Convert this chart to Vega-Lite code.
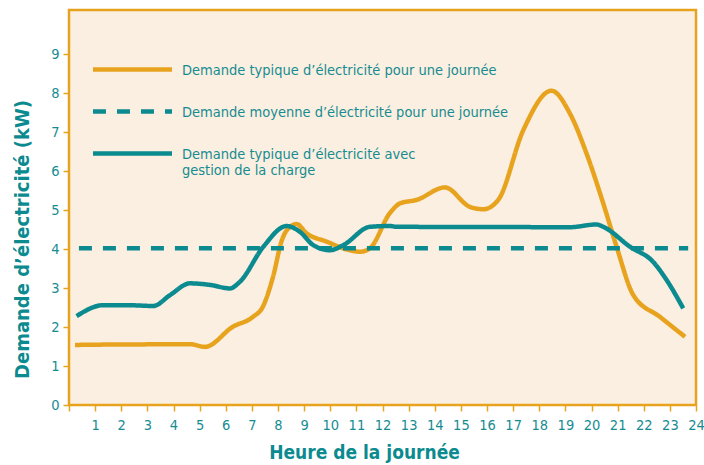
{
  "$schema": "https://vega.github.io/schema/vega-lite/v6.json",
  "width": 627,
  "height": 395,
  "autosize": "none",
  "padding": {"left": 69, "top": 10, "right": 8, "bottom": 60},
  "background": "white",
  "config": {
    "view": {"fill": "#FBEFE1", "stroke": "#E8A31E", "strokeWidth": 2.5},
    "font": "DejaVu Sans Condensed, sans-serif",
    "axis": {
      "labelFont": "DejaVu Sans Condensed, sans-serif",
      "titleFont": "DejaVu Sans Condensed, sans-serif",
      "labelColor": "#168C91",
      "titleColor": "#0B8A8F",
      "tickColor": "#E8A31E",
      "tickWidth": 1.5,
      "grid": false,
      "domain": false
    }
  },
  "data": {
    "values": [
      {"h": 0.23, "v": 1.54, "s": "Demande typique d’électricité pour une journée"},
      {"h": 1.5, "v": 1.55, "s": "Demande typique d’électricité pour une journée"},
      {"h": 3.0, "v": 1.555, "s": "Demande typique d’électricité pour une journée"},
      {"h": 4.63, "v": 1.56, "s": "Demande typique d’électricité pour une journée"},
      {"h": 5.2, "v": 1.49, "s": "Demande typique d’électricité pour une journée"},
      {"h": 6.28, "v": 2.01, "s": "Demande typique d’électricité pour une journée"},
      {"h": 7.04, "v": 2.26, "s": "Demande typique d’électricité pour une journée"},
      {"h": 7.42, "v": 2.52, "s": "Demande typique d’électricité pour une journée"},
      {"h": 7.81, "v": 3.29, "s": "Demande typique d’électricité pour une journée"},
      {"h": 8.15, "v": 4.23, "s": "Demande typique d’électricité pour une journée"},
      {"h": 8.46, "v": 4.57, "s": "Demande typique d’électricité pour une journée"},
      {"h": 8.71, "v": 4.64, "s": "Demande typique d’électricité pour une journée"},
      {"h": 9.1, "v": 4.4, "s": "Demande typique d’électricité pour une journée"},
      {"h": 9.86, "v": 4.19, "s": "Demande typique d’électricité pour une journée"},
      {"h": 10.63, "v": 3.99, "s": "Demande typique d’électricité pour une journée"},
      {"h": 11.14, "v": 3.93, "s": "Demande typique d’électricité pour une journée"},
      {"h": 11.52, "v": 4.02, "s": "Demande typique d’électricité pour une journée"},
      {"h": 12.28, "v": 4.92, "s": "Demande typique d’électricité pour une journée"},
      {"h": 12.67, "v": 5.17, "s": "Demande typique d’électricité pour une journée"},
      {"h": 13.31, "v": 5.26, "s": "Demande typique d’électricité pour une journée"},
      {"h": 14.39, "v": 5.58, "s": "Demande typique d’électricité pour une journée"},
      {"h": 15.35, "v": 5.08, "s": "Demande typique d’électricité pour une journée"},
      {"h": 15.86, "v": 5.02, "s": "Demande typique d’électricité pour une journée"},
      {"h": 16.43, "v": 5.26, "s": "Demande typique d’électricité pour une journée"},
      {"h": 17.39, "v": 7.05, "s": "Demande typique d’électricité pour une journée"},
      {"h": 18.47, "v": 8.06, "s": "Demande typique d’électricité pour une journée"},
      {"h": 19.17, "v": 7.48, "s": "Demande typique d’électricité pour une journée"},
      {"h": 19.81, "v": 6.45, "s": "Demande typique d’électricité pour une journée"},
      {"h": 20.45, "v": 5.17, "s": "Demande typique d’électricité pour une journée"},
      {"h": 20.96, "v": 4.06, "s": "Demande typique d’électricité pour une journée"},
      {"h": 21.6, "v": 2.82, "s": "Demande typique d’électricité pour une journée"},
      {"h": 22.62, "v": 2.26, "s": "Demande typique d’électricité pour une journée"},
      {"h": 23.58, "v": 1.75, "s": "Demande typique d’électricité pour une journée"},
      {"h": 0.38, "v": 4.02, "s": "Demande moyenne d’électricité pour une journée"},
      {"h": 23.7, "v": 4.02, "s": "Demande moyenne d’électricité pour une journée"},
      {"h": 0.29, "v": 2.28, "s": "Demande typique d’électricité avec gestion de la charge"},
      {"h": 1.31, "v": 2.56, "s": "Demande typique d’électricité avec gestion de la charge"},
      {"h": 2.21, "v": 2.56, "s": "Demande typique d’électricité avec gestion de la charge"},
      {"h": 3.23, "v": 2.54, "s": "Demande typique d’électricité avec gestion de la charge"},
      {"h": 3.87, "v": 2.82, "s": "Demande typique d’électricité avec gestion de la charge"},
      {"h": 4.63, "v": 3.12, "s": "Demande typique d’électricité avec gestion de la charge"},
      {"h": 5.4, "v": 3.08, "s": "Demande typique d’électricité avec gestion de la charge"},
      {"h": 6.16, "v": 2.99, "s": "Demande typique d’électricité avec gestion de la charge"},
      {"h": 6.54, "v": 3.16, "s": "Demande typique d’électricité avec gestion de la charge"},
      {"h": 7.44, "v": 4.06, "s": "Demande typique d’électricité avec gestion de la charge"},
      {"h": 8.33, "v": 4.59, "s": "Demande typique d’électricité avec gestion de la charge"},
      {"h": 8.84, "v": 4.44, "s": "Demande typique d’électricité avec gestion de la charge"},
      {"h": 9.35, "v": 4.1, "s": "Demande typique d’électricité avec gestion de la charge"},
      {"h": 9.99, "v": 3.97, "s": "Demande typique d’électricité avec gestion de la charge"},
      {"h": 10.5, "v": 4.1, "s": "Demande typique d’électricité avec gestion de la charge"},
      {"h": 11.52, "v": 4.57, "s": "Demande typique d’électricité avec gestion de la charge"},
      {"h": 12.28, "v": 4.59, "s": "Demande typique d’électricité avec gestion de la charge"},
      {"h": 12.54, "v": 4.57, "s": "Demande typique d’électricité avec gestion de la charge"},
      {"h": 16.0, "v": 4.565, "s": "Demande typique d’électricité avec gestion de la charge"},
      {"h": 19.17, "v": 4.56, "s": "Demande typique d’électricité avec gestion de la charge"},
      {"h": 20.19, "v": 4.63, "s": "Demande typique d’électricité avec gestion de la charge"},
      {"h": 20.45, "v": 4.57, "s": "Demande typique d’électricité avec gestion de la charge"},
      {"h": 21.47, "v": 4.06, "s": "Demande typique d’électricité avec gestion de la charge"},
      {"h": 22.36, "v": 3.67, "s": "Demande typique d’électricité avec gestion de la charge"},
      {"h": 22.87, "v": 3.21, "s": "Demande typique d’électricité avec gestion de la charge"},
      {"h": 23.51, "v": 2.48, "s": "Demande typique d’électricité avec gestion de la charge"}
    ]
  },
  "mark": {"type": "line", "interpolate": "monotone", "strokeWidth": 4.5, "strokeCap": "butt"},
  "encoding": {
    "x": {
      "field": "h", "type": "quantitative",
      "scale": {"domain": [0, 24], "nice": false, "zero": false},
      "axis": {
        "values": [0,1,2,3,4,5,6,7,8,9,10,11,12,13,14,15,16,17,18,19,20,21,22,23,24],
        "labelExpr": "datum.value == 0 ? '' : datum.label",
        "tickSize": 6, "labelPadding": 7, "labelFontSize": 14.5,
        "labelFlush": false, "labelOverlap": false,
        "title": "Heure de la journée",
        "titleFontSize": 19, "titleFontWeight": "bold",
        "titleX": 295, "titleY": 47, "titleBaseline": "middle", "titleAnchor": null, "titleAlign": "center"
      }
    },
    "y": {
      "field": "v", "type": "quantitative",
      "scale": {"domain": [0, 10.13], "nice": false},
      "axis": {
        "values": [0,1,2,3,4,5,6,7,8,9],
        "tickSize": 6, "labelPadding": 4, "labelFontSize": 14.5,
        "title": "Demande d’électricité (kW)",
        "titleFontSize": 20, "titleFontWeight": "bold",
        "titleAngle": -90, "titleX": -47, "titleY": 229,
        "titleAlign": "center", "titleBaseline": "middle"
      }
    },
    "color": {
      "field": "s", "type": "nominal",
      "scale": {
        "domain": ["Demande typique d’électricité pour une journée", "Demande moyenne d’électricité pour une journée", "Demande typique d’électricité avec gestion de la charge"],
        "range": ["#E8A31E", "#0B8A8F", "#0B8A8F"]
      },
      "legend": {
        "orient": "none", "legendX": 45, "legendY": 41, "title": null,
        "padding": 0,
        "symbolType": "M-2.5,0H2.5", "symbolSize": 1000, "symbolStrokeWidth": 4.5,
        "labelFont": "DejaVu Sans Condensed, sans-serif",
        "labelFontSize": 14.5, "labelColor": "#168C91", "labelOffset": 31,
        "labelLimit": 0, "rowPadding": 14,
        "labelBaseline": "alphabetic",
        "labelExpr": "indexof(datum.label, 'avec') > 0 ? ['Demande typique d’électricité avec', 'gestion de la charge'] : datum.label",
        "encode": {"labels": {"update": {"dy": {"value": 5}}}}
      }
    },
    "strokeDash": {
      "field": "s", "type": "nominal",
      "scale": {
        "domain": ["Demande typique d’électricité pour une journée", "Demande moyenne d’électricité pour une journée", "Demande typique d’électricité avec gestion de la charge"],
        "range": [[1, 0], [13, 11], [1, 0]]
      },
      "legend": null
    }
  }
}
